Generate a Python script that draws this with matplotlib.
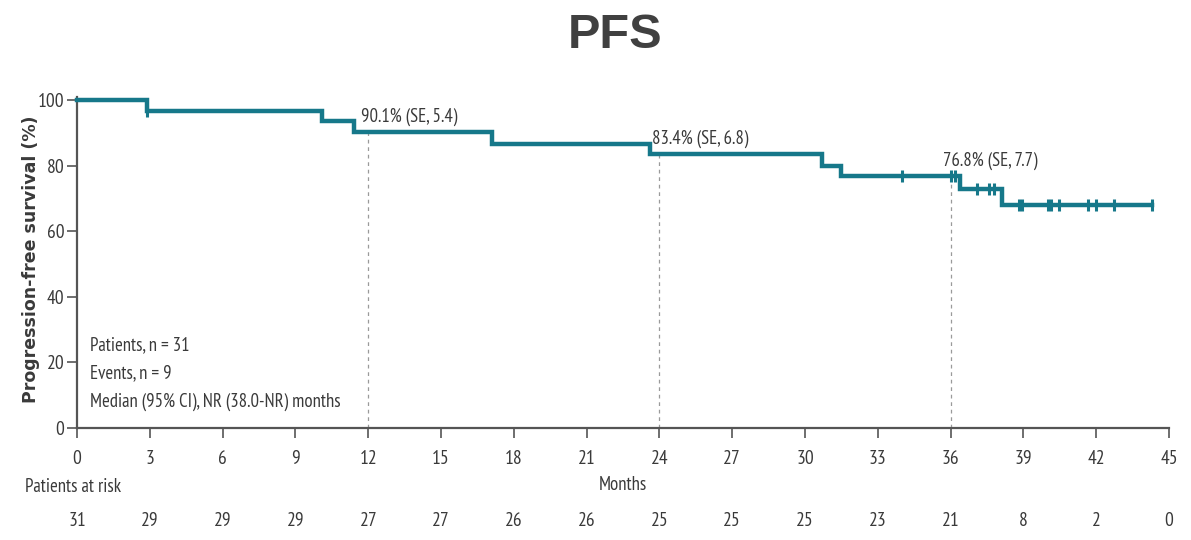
import matplotlib
matplotlib.use("Agg")
import matplotlib.pyplot as plt

# Kaplan-Meier steps (months, PFS %)
step_t = [0, 2.9, 10.1, 11.4, 17.1, 23.6, 30.7, 31.5, 36.4, 38.1, 44.3]
step_s = [100, 96.8, 93.5, 90.1, 86.7, 83.4, 80.0, 76.8, 72.9, 68.0, 68.0]

# censored observations
cens_t = [2.9, 34.0, 36.0, 36.2, 37.1, 37.6, 37.8,
          38.8, 38.95, 40.0, 40.15, 40.45, 41.65, 42.0, 42.75, 44.3]
cens_s = [96.8, 76.8, 76.8, 76.8, 72.9, 72.9, 72.9,
          68.0, 68.0, 68.0, 68.0, 68.0, 68.0, 68.0, 68.0, 68.0]

# landmark estimates
land_t = [12, 24, 36]
land_s = [90.1, 83.4, 76.8]
land_se = [5.4, 6.8, 7.7]

xticks = list(range(0, 46, 3))
at_risk = [31, 29, 29, 29, 27, 27, 26, 26, 25, 25, 25, 23, 21, 8, 2, 0]

teal = "#16788a"
grey = "#3a3a3a"
FONT = dict(family="PT Sans Narrow")
FS = 13.5

fig = plt.figure(figsize=(11.91, 5.4), dpi=100)
ax = fig.add_axes([0.0647, 0.2074, 0.9168, 0.6074])

ax.step(step_t, step_s, where="post", color=teal, lw=3.2, clip_on=False,
        solid_joinstyle="miter", zorder=3)
ax.plot(cens_t, cens_s, ls="none", marker="|", ms=9, mew=2.2, color=teal,
        clip_on=False, zorder=4)

for t, s, se in zip(land_t, land_s, land_se):
    ax.plot([t, t], [0, s], ls=(0, (3, 3)), lw=0.9, color="#9a9a9a", zorder=1)
    ax.text(t - 0.3, s + 2.0, f"{s}% (SE, {se})", fontsize=FS, color=grey,
            ha="left", va="bottom", **FONT)

ax.text(0.55, 25.3, "Patients, n = 31", fontsize=FS, color=grey, va="center", **FONT)
ax.text(0.55, 16.8, "Events, n = 9", fontsize=FS, color=grey, va="center", **FONT)
ax.text(0.55, 8.0, "Median (95% CI), NR (38.0-NR) months", fontsize=FS,
        color=grey, va="center", **FONT)

ax.set_xlim(0, 45)
ax.set_ylim(0, 100)
ax.set_xticks(xticks)
ax.set_yticks(range(0, 101, 20))
for lab in ax.get_xticklabels() + ax.get_yticklabels():
    lab.set_fontfamily(FONT["family"])
    lab.set_fontsize(FS + 0.5)
    lab.set_color(grey)
ax.tick_params(direction="out", length=7, width=1.2, color="#555555", pad=9)
ax.tick_params(axis="y", pad=2)
for side in ("top", "right"):
    ax.spines[side].set_visible(False)
for side in ("left", "bottom"):
    ax.spines[side].set_color("#555555")
    ax.spines[side].set_linewidth(1.6)
ax.spines["left"].set_bounds(0, 101)

fig.text(31 / 1191, 1 - 259 / 540, "Progression-free survival (%)", rotation=90,
         fontsize=12.5, fontweight="bold", color=grey, ha="center", va="center",
         family="DejaVu Sans")
ax.text(0.5, -0.175, "Months", transform=ax.transAxes, ha="center", va="center",
        fontsize=FS, color=grey, **FONT)

fig.text(25 / 1191, 1 - 487 / 540, "Patients at risk", fontsize=FS, color=grey,
         ha="left", va="center", **FONT)
for t, n in zip(xticks, at_risk):
    ax.text(t, -0.283, str(n), transform=ax.get_xaxis_transform(), ha="center",
            va="center", fontsize=FS + 0.5, color=grey, **FONT)

fig.text(615 / 1191, 1 - 36 / 540, "PFS", fontsize=35, fontweight="bold",
         color="#404040", ha="center", va="center", family="Liberation Sans")

fig.savefig("out.png", dpi=100)
